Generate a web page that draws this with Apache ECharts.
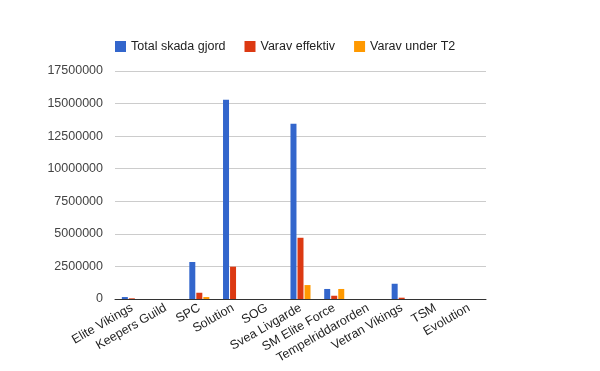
<!DOCTYPE html>
<html>
<head>
<meta charset="utf-8">
<script src="https://cdn.jsdelivr.net/npm/echarts@6/dist/echarts.min.js"></script>
<style>html,body{margin:0;padding:0;background:#fff;}#c{width:600px;height:371px;}</style>
</head>
<body>
<div id="c"></div>
<script>
var categories = ['Elite Vikings','Keepers Guild','SPC','Solution','SOG','Svea Livgarde','SM Elite Force','Tempelriddarorden','Vetran Vikings','TSM','Evolution'];
var totalSkada = [150000, 0, 2840000, 15300000, 0, 13450000, 770000, 0, 1170000, 0, 0];
var varavEffektiv = [50000, 0, 480000, 2480000, 0, 4700000, 250000, 0, 100000, 0, 0];
var varavUnderT2 = [0, 0, 150000, 0, 0, 1070000, 770000, 0, 0, 0, 0];
var seriesNames = ['Total skada gjord','Varav effektiv','Varav under T2'];
var colors = ['#3366cc','#dc3912','#ff9900'];
var FONT = 'Liberation Sans, Arial, sans-serif';

var chart = echarts.init(document.getElementById('c'), null, {renderer:'canvas'});
chart.setOption({
  animation: false,
  color: colors,
  textStyle: {fontFamily: FONT},
  legend: {
    top: 35, left: 110,
    itemWidth: 11, itemHeight: 11, itemGap: 19,
    icon: 'rect',
    textStyle: {fontSize: 12.5, color: '#222', fontFamily: FONT},
    data: seriesNames
  },
  grid: {left: 115, right: 114, top: 71, bottom: 72, containLabel: false},
  xAxis: {
    type: 'category',
    data: categories,
    axisTick: {show: false},
    axisLine: {lineStyle: {color: '#333', width: 1}},
    axisLabel: {rotate: 30, interval: 0, fontSize: 12.5, color: '#222', margin: 8, fontFamily: FONT}
  },
  yAxis: {
    type: 'value',
    min: 0, max: 17500000, interval: 2500000,
    axisLine: {show: false},
    axisTick: {show: false},
    splitLine: {lineStyle: {color: '#cccccc'}},
    axisLabel: {fontSize: 12.5, color: '#444', margin: 12, fontFamily: FONT,
      formatter: function (v) { return String(v); }}
  },
  series: [
    {name: seriesNames[0], type: 'bar', data: totalSkada, barWidth: 6, barGap: '17%', barCategoryGap: '40%'},
    {name: seriesNames[1], type: 'bar', data: varavEffektiv, barWidth: 6, barGap: '17%'},
    {name: seriesNames[2], type: 'bar', data: varavUnderT2, barWidth: 6, barGap: '17%'}
  ]
});
</script>
</body>
</html>
